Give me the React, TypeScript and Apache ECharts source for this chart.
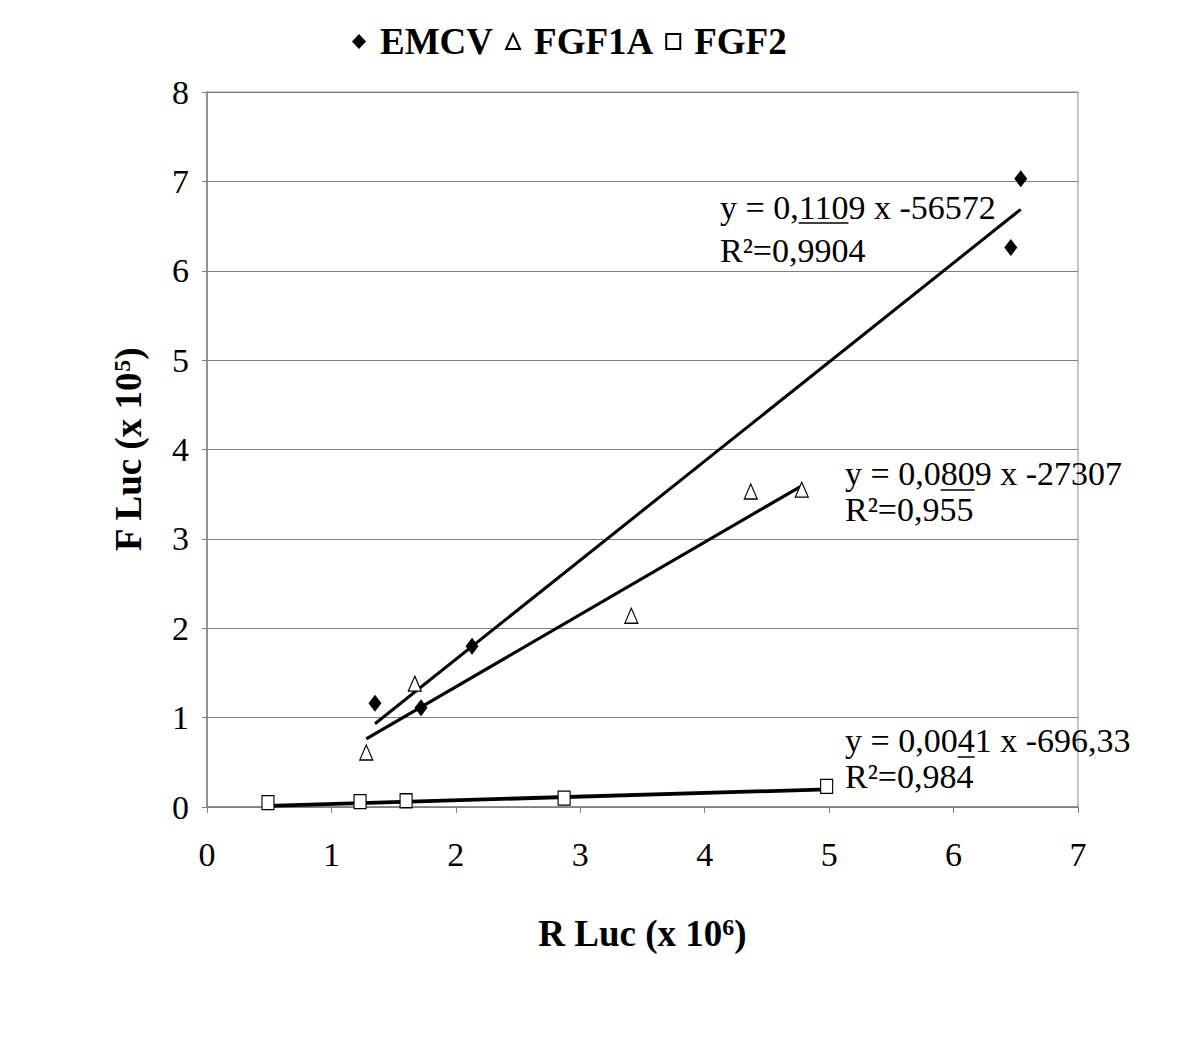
import React, { useEffect, useRef } from 'react';
import * as echarts from 'echarts';

const FONT = 'Liberation Serif';

// Data (x in units of 10^6 R Luc, y in units of 10^5 F Luc)
const emcvX = [1.35, 1.72, 2.13, 6.46, 6.54];
const emcvY = [1.16, 1.11, 1.8, 6.26, 7.03];
const fgf1aX = [1.28, 1.67, 3.41, 4.37, 4.78];
const fgf1aY = [0.61, 1.38, 2.14, 3.53, 3.55];
const fgf2X = [0.49, 1.23, 1.6, 2.87, 4.98];
const fgf2Y = [0.05, 0.06, 0.07, 0.1, 0.23];

const seriesNames = ['EMCV', 'FGF1A', 'FGF2'];
const slopes = [0.1109, 0.0809, 0.0041];
const intercepts = [-56572, -27307, -696.33];
const eqTexts = ['y = 0,1109 x -56572', 'y = 0,0809 x -27307', 'y = 0,0041 x -696,33'];
const r2Texts = ['R²=0,9904', 'R²=0,955', 'R²=0,984'];
// underlined part of each equation: [prefix, underlined]
const underlineParts = [['y = 0,', '110'], ['y = 0,0', '80'], ['y = 0,00', '4']];

const xTickMax = 7;
const yTickMax = 8;

function trend(xs: number[], i: number) {
  const lo = Math.min(...xs);
  const hi = Math.max(...xs);
  return [lo, hi].map((x) => [x, (slopes[i] * x * 1e6 + intercepts[i]) / 1e5]);
}

export default function App() {
  const ref = useRef<HTMLDivElement>(null);
  useEffect(() => {
    const chart = echarts.init(ref.current!, null, { renderer: 'svg' });

    const canvas = document.createElement('canvas');
    const ctx = canvas.getContext('2d')!;
    ctx.font = '34px "Liberation Serif"';
    const w = (s: string) => ctx.measureText(s).width;

    // x: left of text; y1: centre of first line; y2: centre of second line; uy: underline y
    const annPos = [
      { x: 720, y1: 207, y2: 250, uy: 223 },
      { x: 845, y1: 473, y2: 509, uy: 490 },
      { x: 845, y1: 740, y2: 776, uy: 757 },
    ];

    const graphics: any[] = [];
    annPos.forEach((p, i) => {
      graphics.push({
        type: 'text',
        x: p.x,
        y: p.y1,
        style: { text: eqTexts[i], fontFamily: FONT, fontSize: 34, fill: '#000', verticalAlign: 'middle' },
      });
      graphics.push({
        type: 'text',
        x: p.x,
        y: p.y2,
        style: { text: r2Texts[i], fontFamily: FONT, fontSize: 34, fill: '#000', verticalAlign: 'middle' },
      });
      const x1 = p.x + w(underlineParts[i][0]);
      const x2 = x1 + w(underlineParts[i][1]);
      graphics.push({
        type: 'line',
        shape: { x1, y1: p.uy, x2, y2: p.uy },
        style: { stroke: '#000', lineWidth: 1.5 },
      });
    });

    const scatterCommon = {
      type: 'scatter',
      z: 5,
      emphasis: { disabled: true },
    };

    const bold = { fontFamily: FONT, fontSize: 37, fontWeight: 'bold', color: '#000' };
    const supStyle = { fontFamily: FONT, fontSize: 24, fontWeight: 'bold', color: '#000', verticalAlign: 'top' };

    chart.setOption({
      animation: false,
      backgroundColor: '#fff',
      textStyle: { fontFamily: FONT },
      legend: {
        left: 347,
        top: 18,
        itemWidth: 14,
        itemHeight: 15,
        itemGap: 12,
        data: seriesNames,
        formatter: (n: string) => '{n|' + n + '}',
        textStyle: {
          ...bold,
          rich: { n: { ...bold, padding: [0, 0, 0, 9] } },
        },
      },
      grid: {
        left: 207,
        right: 122,
        top: 92,
        bottom: 246,
        show: true,
        borderColor: '#8c8c8c',
        borderWidth: 1,
      },
      xAxis: {
        type: 'value',
        min: 0,
        max: xTickMax,
        interval: 1,
        name: 'R Luc (x 10{sup|6})',
        nameLocation: 'middle',
        nameGap: 108,
        nameTextStyle: { ...bold, rich: { sup: supStyle } },
        axisLine: { show: true, lineStyle: { color: '#808080', width: 1.5 } },
        axisTick: { show: true, inside: false, length: 6, lineStyle: { color: '#808080' } },
        axisLabel: { fontFamily: FONT, fontSize: 34, color: '#000', margin: 30 },
        splitLine: { show: false },
      },
      yAxis: {
        type: 'value',
        min: 0,
        max: yTickMax,
        interval: 1,
        name: 'F Luc (x 10{sup|5})',
        nameLocation: 'middle',
        nameRotate: 90,
        nameGap: 60,
        nameTextStyle: { ...bold, rich: { sup: supStyle } },
        axisLine: { show: true, lineStyle: { color: '#808080', width: 1.5 } },
        axisTick: { show: true, inside: false, length: 5, lineStyle: { color: '#808080' } },
        axisLabel: { fontFamily: FONT, fontSize: 34, color: '#000', margin: 18 },
        splitLine: { show: true, lineStyle: { color: '#808080', width: 1 } },
      },
      series: [
        {
          ...scatterCommon,
          name: 'EMCV',
          symbol: 'diamond',
          symbolSize: [13, 17],
          itemStyle: { color: '#000', opacity: 1 },
          data: emcvX.map((x, i) => [x, emcvY[i]]),
        },
        {
          ...scatterCommon,
          name: 'FGF1A',
          symbol: 'triangle',
          symbolSize: [13, 15],
          itemStyle: { color: '#fff', borderColor: '#000', borderWidth: 1.2, opacity: 1 },
          data: fgf1aX.map((x, i) => [x, fgf1aY[i]]),
        },
        {
          ...scatterCommon,
          name: 'FGF2',
          symbol: 'rect',
          symbolSize: [12, 14],
          itemStyle: { color: '#fff', borderColor: '#000', borderWidth: 1.2, opacity: 1 },
          data: fgf2X.map((x, i) => [x, fgf2Y[i]]),
        },
        {
          type: 'line',
          name: 'EMCV trend',
          symbol: 'none',
          z: 3,
          lineStyle: { color: '#000', width: 3 },
          data: trend(emcvX, 0),
        },
        {
          type: 'line',
          name: 'FGF1A trend',
          symbol: 'none',
          z: 3,
          lineStyle: { color: '#000', width: 3.2 },
          data: trend(fgf1aX, 1),
        },
        {
          type: 'line',
          name: 'FGF2 trend',
          symbol: 'none',
          z: 3,
          lineStyle: { color: '#000', width: 3.8 },
          data: trend(fgf2X, 2),
        },
      ],
      graphic: graphics,
    });
    return () => chart.dispose();
  }, []);
  return (
    <div
      ref={ref}
      style={{ position: 'absolute', left: 0, top: 0, width: 1200, height: 1053, background: '#fff' }}
    />
  );
}
